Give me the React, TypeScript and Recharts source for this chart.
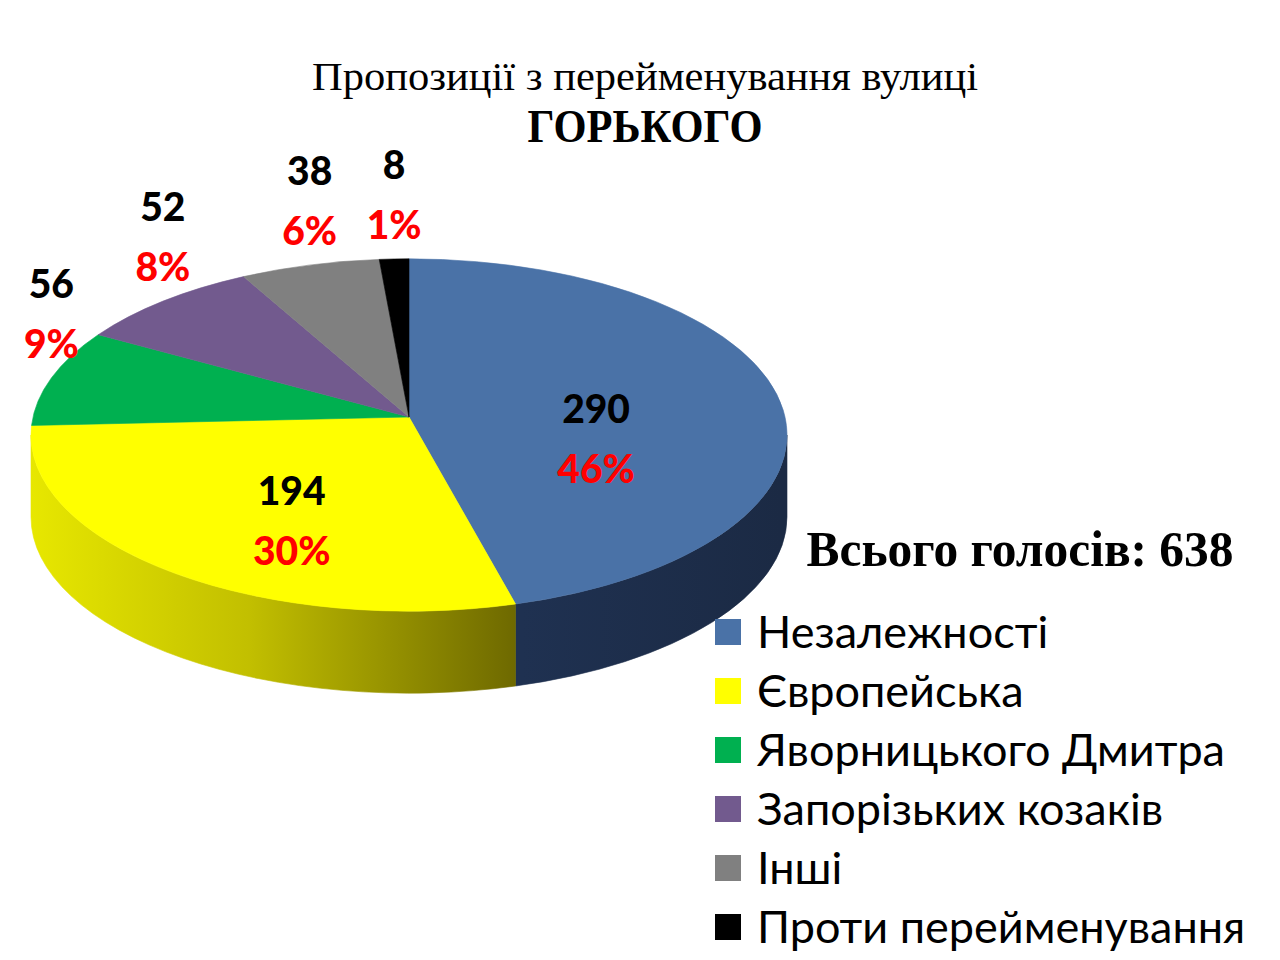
import { PieChart, Pie, Cell, Legend } from 'recharts';

const NAMES = [
  'Незалежності',
  'Європейська',
  'Яворницького Дмитра',
  'Запорізьких козаків',
  'Інші',
  'Проти перейменування',
];
const VOTES = [290, 194, 56, 52, 38, 8];
const PERCENT_LABELS = ['46%', '30%', '9%', '8%', '6%', '1%'];
const TOTAL_VOTES = 638;

const TOP_COLORS = ['#4a72a7', '#ffff00', '#00b050', '#725a8e', '#808080', '#000000'];
const SIDE_COLORS = ['url(#sideBlue)', 'url(#sideYellow)', '#00672e', '#44355a', '#4a4a4a', '#000000'];

const data = NAMES.map((name, i) => ({ name, value: VOTES[i] }));

// pie geometry (page pixels)
const CX = 404;
const CY = 430;
const RX = 378;
const TILT = 0.466;
const DEPTH = 82;
const APEX_LIFT = 18;
const RAD = Math.PI / 180;

function pt(cx: number, cy: number, r: number, a: number) {
  return [cx + r * Math.cos(a * RAD), cy - r * TILT * Math.sin(a * RAD)];
}

function TopSlice(props: any) {
  const { cx, cy, outerRadius, startAngle, endAngle, fill } = props;
  const ry = outerRadius * TILT;
  const [x1, y1] = pt(cx, cy, outerRadius, startAngle);
  const [x2, y2] = pt(cx, cy, outerRadius, endAngle);
  const large = Math.abs(startAngle - endAngle) > 180 ? 1 : 0;
  const sweep = startAngle > endAngle ? 1 : 0;
  const d = `M${cx},${cy - APEX_LIFT} L${x1},${y1} A${outerRadius},${ry} 0 ${large} ${sweep} ${x2},${y2} Z`;
  return <path d={d} fill={fill} stroke={fill} strokeWidth={0.6} />;
}

function SideSlice(props: any) {
  const { cx, cy, outerRadius, startAngle, endAngle, fill } = props;
  const ry = outerRadius * TILT;
  const a = Math.min(startAngle, endAngle);
  const b = Math.max(startAngle, endAngle);
  const parts: string[] = [];
  // front half of the rim lies where sin(angle) < 0
  for (const k of [-1, 0, 1]) {
    const lo = Math.max(a, -180 + 360 * k);
    const hi = Math.min(b, 360 * k);
    if (hi - lo <= 0.01) continue;
    const [xh, yh] = pt(cx, cy, outerRadius, hi);
    const [xl, yl] = pt(cx, cy, outerRadius, lo);
    parts.push(
      `M${xh},${yh} A${outerRadius},${ry} 0 0 1 ${xl},${yl} L${xl},${yl + DEPTH} A${outerRadius},${ry} 0 0 0 ${xh},${yh + DEPTH} Z`
    );
  }
  if (!parts.length) return <g />;
  return <path d={parts.join(' ')} fill={fill} stroke={fill} strokeWidth={0.6} />;
}

function renderLabel(props: any) {
  const { cx, cy, midAngle, outerRadius, percent, index } = props;
  const ry = outerRadius * TILT;
  const c = Math.cos(midAngle * RAD);
  const s = Math.sin(midAngle * RAD);
  let x: number;
  let y: number;
  if (percent > 0.2) {
    x = cx + 0.5 * outerRadius * c;
    y = cy - 0.5 * ry * s + 16;
  } else {
    x = cx + outerRadius * c;
    y = cy - ry * s - 65;
  }
  const font = { fontFamily: 'Lato, sans-serif', fontWeight: 900, fontSize: 39 };
  return (
    <g>
      <text x={x} y={y - 30} textAnchor="middle" dominantBaseline="central" fill="#000" style={font}>
        {VOTES[index]}
      </text>
      <text x={x} y={y + 30} textAnchor="middle" dominantBaseline="central" fill="#ff0000" style={font}>
        {PERCENT_LABELS[index]}
      </text>
    </g>
  );
}

function renderLegend(props: any) {
  const seen = new Set<string>();
  const items = (props.payload || [])
    .filter((p: any) => {
      if (p.type === 'none' || seen.has(p.value)) return false;
      seen.add(p.value);
      return true;
    })
    .sort((p: any, q: any) => NAMES.indexOf(p.value) - NAMES.indexOf(q.value));
  return (
    <div>
      {items.map((p: any) => (
        <div key={p.value} style={{ display: 'flex', alignItems: 'center', height: 59 }}>
          <span
            style={{
              display: 'inline-block',
              width: 26,
              height: 26,
              background: TOP_COLORS[NAMES.indexOf(p.value)] ?? p.color,
              marginRight: 16,
            }}
          />
          <span style={{ fontFamily: 'Lato, sans-serif', fontSize: 45, color: '#000', lineHeight: '59px' }}>
            {p.value}
          </span>
        </div>
      ))}
    </div>
  );
}

export default function App() {
  return (
    <div style={{ position: 'absolute', left: 0, top: 0, width: 1280, height: 960, background: '#fff' }}>
      <PieChart width={1280} height={960} style={{ position: 'absolute', left: 0, top: 0 }}>
        <defs>
          <linearGradient id="sideYellow" gradientUnits="userSpaceOnUse" x1={26} y1={0} x2={522} y2={0}>
            <stop offset="0%" stopColor="#e8e800" />
            <stop offset="45%" stopColor="#c2bf00" />
            <stop offset="100%" stopColor="#6c6700" />
          </linearGradient>
          <linearGradient id="sideBlue" gradientUnits="userSpaceOnUse" x1={522} y1={0} x2={782} y2={0}>
            <stop offset="0%" stopColor="#1f3151" />
            <stop offset="100%" stopColor="#1b2a44" />
          </linearGradient>
        </defs>
        <Pie
          data={data}
          dataKey="value"
          nameKey="name"
          cx={CX}
          cy={CY}
          outerRadius={RX}
          startAngle={90}
          endAngle={-270}
          legendType="none"
          shape={SideSlice}
          isAnimationActive={false}
        >
          {data.map((d, i) => (
            <Cell key={d.name} fill={SIDE_COLORS[i]} />
          ))}
        </Pie>
        <Pie
          data={data}
          dataKey="value"
          nameKey="name"
          cx={CX}
          cy={CY}
          outerRadius={RX}
          startAngle={90}
          endAngle={-270}
          legendType="square"
          shape={TopSlice}
          label={renderLabel}
          labelLine={false}
          isAnimationActive={false}
        >
          {data.map((d, i) => (
            <Cell key={d.name} fill={TOP_COLORS[i]} />
          ))}
        </Pie>
        <Legend
          content={renderLegend}
          wrapperStyle={{ position: 'absolute', left: 715, top: 602, width: 560, height: 360 }}
        />
      </PieChart>
      <svg width={1280} height={960} style={{ position: 'absolute', left: 0, top: 0, pointerEvents: 'none' }}>
        <text
          x={645}
          y={90}
          textAnchor="middle"
          textLength={666}
          lengthAdjust="spacingAndGlyphs"
          style={{ fontFamily: '"Liberation Serif", serif', fontSize: 40 }}
        >
          Пропозиції з перейменування вулиці
        </text>
        <text
          x={645}
          y={142}
          textAnchor="middle"
          textLength={235}
          lengthAdjust="spacingAndGlyphs"
          style={{ fontFamily: '"Liberation Serif", serif', fontSize: 47, fontWeight: 700 }}
        >
          ГОРЬКОГО
        </text>
        <text
          x={1020}
          y={566}
          textAnchor="middle"
          textLength={427}
          lengthAdjust="spacingAndGlyphs"
          style={{ fontFamily: '"Liberation Serif", serif', fontSize: 50, fontWeight: 700 }}
        >
          {`Всього голосів: ${TOTAL_VOTES}`}
        </text>
      </svg>
    </div>
  );
}
